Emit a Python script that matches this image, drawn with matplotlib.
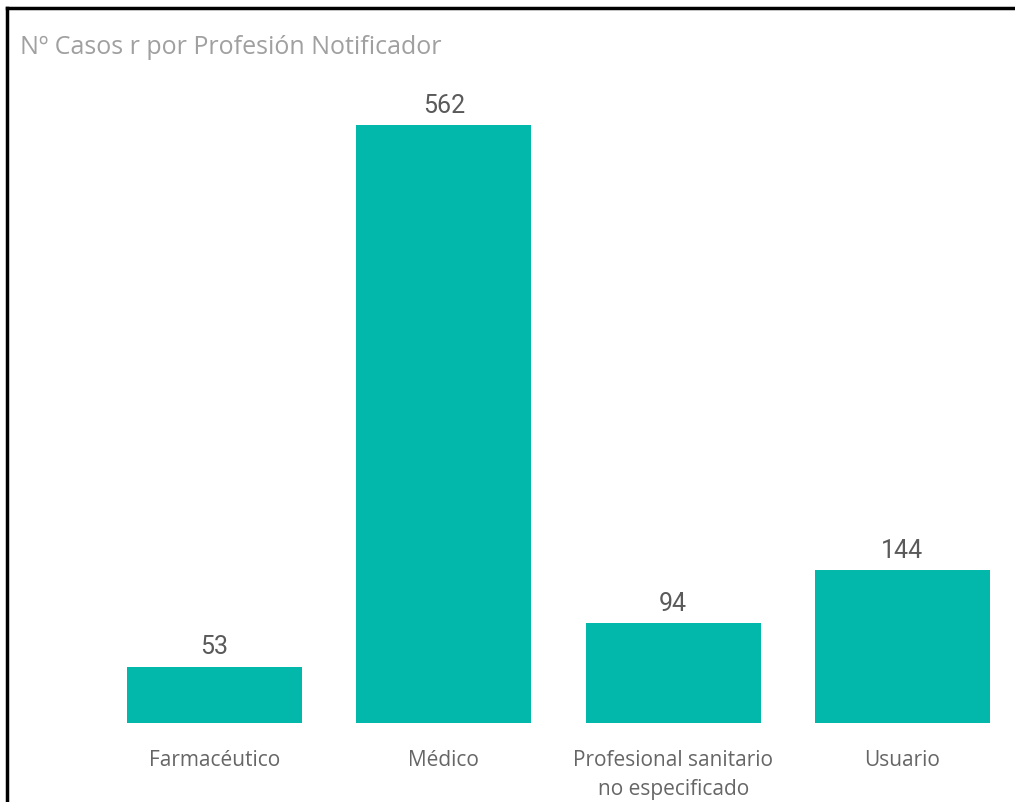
import matplotlib
matplotlib.use("Agg")
from matplotlib import pyplot as plt
from matplotlib.lines import Line2D

categorias = ["Farmacéutico", "Médico", "Profesional sanitario\nno especificado", "Usuario"]
casos = [53, 562, 94, 144]
titulo = "Nº Casos r por Profesión Notificador"

cor_barra = "#01B8AA"

fig = plt.figure(figsize=(10.15, 8.03), dpi=100)
fig.patch.set_facecolor("white")

# eixos posicionados em pixels
ax = fig.add_axes([100 / 1015, 79 / 803, 917 / 1015, 643 / 803])
pos = range(len(casos))
barras = ax.bar(pos, casos, width=0.763, color=cor_barra)
ax.set_xlim(-0.5, 3.5)
ax.set_ylim(0, 604)

for b, v in zip(barras, casos):
    ax.annotate(str(v), (b.get_x() + b.get_width() / 2, v), xytext=(0, 9.5),
                textcoords="offset points", ha="center", va="baseline",
                fontsize=18, color="#5a5a5a", family="Roboto")

ax.set_xticks(list(pos))
ax.set_xticklabels(categorias, fontsize=15, color="#666666", family="Open Sans",
                   linespacing=1.45, va="top")
ax.tick_params(axis="x", length=0, pad=19)
ax.set_yticks([])
for s in ax.spines.values():
    s.set_visible(False)

fig.text(20 / 1015, 1 - 48 / 803, titulo, fontsize=18, color="#a0a0a0",
         family="Open Sans", va="center", ha="left")

# moldura preta (topo e esquerda)
fig.add_artist(Line2D([7 / 1015, 7 / 1015], [0, 1 - 9 / 803], color="black", lw=2.5,
                      transform=fig.transFigure))
fig.add_artist(Line2D([7 / 1015, 1], [1 - 9 / 803, 1 - 9 / 803], color="black", lw=2.5,
                      transform=fig.transFigure))

fig.savefig("out.png", dpi=100)
